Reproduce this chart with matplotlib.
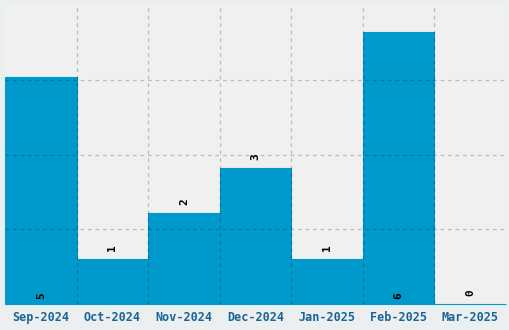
import matplotlib.pyplot as plt
import matplotlib.transforms as mtransforms
import numpy as np

months = ["Sep-2024", "Oct-2024", "Nov-2024", "Dec-2024", "Jan-2025", "Feb-2025", "Mar-2025"]
counts = [5, 1, 2, 3, 1, 6, 0]

bar_color = "#0099cc"
y_max = 6.6

fig = plt.figure(figsize=(5.1, 3.3), dpi=100, facecolor="#eceff0")
ax = fig.add_axes([5 / 510, 26 / 330, 501 / 510, 299 / 330])
ax.set_facecolor("#f0f0f0")

x = np.arange(len(months))
bars = ax.bar(x, counts, width=1.0, color=bar_color, edgecolor=bar_color, linewidth=0.8, zorder=1)
for b in bars:
    b.set_clip_on(False)

for xi, v in zip(x, counts):
    ypos = 0.18 if v > 4 else v + 0.25
    ax.text(xi, ypos, str(v), rotation=90, ha="center", va="center",
            fontsize=8, fontweight="bold", family="DejaVu Sans Mono", zorder=3)

ax.set_xlim(-0.5, len(months) - 0.5)
ax.set_ylim(0, y_max)
ax.set_xticks(x)
ax.set_xticklabels(months, fontsize=8.5, fontweight="bold", family="DejaVu Sans Mono", color="#1a6497")
shift = mtransforms.ScaledTranslation(-4 / 100, 0, fig.dpi_scale_trans)
for lbl in ax.get_xticklabels():
    lbl.set_transform(lbl.get_transform() + shift)
ax.set_xticks(x[:-1] + 0.5, minor=True)
ax.set_yticks([y_max / 4, y_max / 2, y_max * 3 / 4])
ax.set_yticklabels([])
ax.tick_params(which="both", length=0, pad=5)

ax.grid(which="minor", axis="x", color="black", alpha=0.22, linestyle=(0, (3, 3)), linewidth=0.9, zorder=2)
ax.grid(which="major", axis="y", color="black", alpha=0.22, linestyle=(0, (3, 3)), linewidth=0.9, zorder=2)
ax.set_axisbelow(False)
for s in ax.spines.values():
    s.set_visible(False)

fig.savefig("out.png", dpi=100, facecolor=fig.get_facecolor())
